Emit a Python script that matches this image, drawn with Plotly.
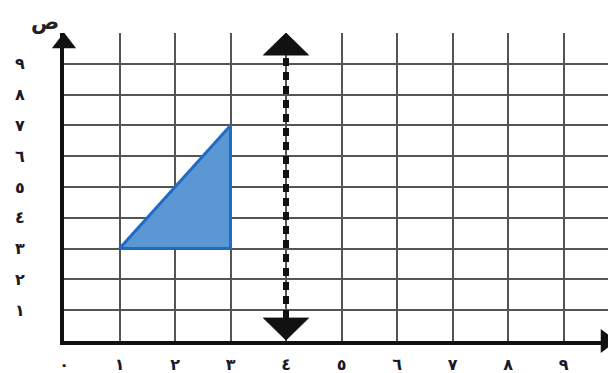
import plotly.graph_objects as go

# figure geometry (page adds an 8px body margin)
W, H = 608, 365
ML, MR, MT, MB = 56, 0, 25, 32

# axes / ticks
x_ticks = list(range(10))
x_labels = ["٠", "١", "٢", "٣", "٤", "٥", "٦", "٧", "٨", "٩"]
y_ticks = list(range(11))
y_labels = ["", "١", "٢", "٣", "٤", "٥", "٦", "٧", "٨", "٩", ""]
x_max = 9.946
y_max = 10
y_title = "ص"

# shape data
tri_x = [1, 3, 3]
tri_y = [3, 3, 7]
mirror_x = 4

# pixels per data unit
sx = (W - ML - MR) / x_max
sy = (H - MT - MB) / y_max


def arrow_head(xt, yt, up, w_px, h_px):
    hw = w_px / 2 / sx
    hh = h_px / sy * (1 if up else -1)
    return [xt - hw, xt, xt + hw, xt - hw], [yt - hh, yt, yt - hh, yt - hh]


fig = go.Figure()

# triangle
fig.add_trace(go.Scatter(
    x=tri_x + tri_x[:1], y=tri_y + tri_y[:1],
    mode="lines", fill="toself",
    fillcolor="#5b97d3",
    line=dict(color="#1f6cc6", width=3),
    hoverinfo="skip",
))

# dashed mirror line with arrows
top_h, bot_h = 22, 22
y_top = y_max
y_bot = 0.03
fig.add_trace(go.Scatter(
    x=[mirror_x, mirror_x],
    y=[y_bot + bot_h / sy, y_top - top_h / sy],
    mode="lines",
    line=dict(color="#111111", width=6, dash="8px,6px"),
    hoverinfo="skip",
))
for yt, up in [(y_top, True), (y_bot, False)]:
    ax, ay = arrow_head(mirror_x, yt, up, 45, 22)
    fig.add_trace(go.Scatter(
        x=ax, y=ay, mode="lines", fill="toself",
        fillcolor="#111111", line=dict(color="#111111", width=1),
        hoverinfo="skip",
    ))

# axis arrow heads
fig.add_trace(go.Scatter(
    x=[0], y=[y_max - 10 / sy], mode="markers", cliponaxis=False,
    marker=dict(symbol="triangle-up", size=21, color="#111111"),
    hoverinfo="skip",
))
fig.add_trace(go.Scatter(
    x=[x_max - 10 / sx], y=[0], mode="markers", cliponaxis=False,
    marker=dict(symbol="triangle-right", size=21, color="#111111"),
    hoverinfo="skip",
))

fig.add_annotation(
    xref="paper", yref="paper", x=-0.035, y=1.036,
    xanchor="center", yanchor="middle", borderpad=0,
    text=y_title, showarrow=False,
    font=dict(size=21, color="#222222", family="DejaVu Sans"),
)

fig.update_layout(
    width=W, height=H,
    margin=dict(l=ML, r=MR, t=MT, b=MB),
    paper_bgcolor="white", plot_bgcolor="white",
    showlegend=False,
    font=dict(family="DejaVu Sans", size=16, color="#1a1a2a", weight="bold"),
)
fig.update_xaxes(
    range=[0, x_max], tickvals=x_ticks, ticktext=x_labels,
    showgrid=True, gridcolor="#555555", gridwidth=2,
    zeroline=False, showline=True, linecolor="#111111", linewidth=4,
    ticks="", ticklabelstandoff=6, fixedrange=True, automargin=False,
)
fig.update_yaxes(
    range=[0, y_max], tickvals=y_ticks, ticktext=y_labels,
    showgrid=True, gridcolor="#555555", gridwidth=2,
    zeroline=False, showline=True, linecolor="#111111", linewidth=4,
    ticks="", ticklabelstandoff=32, fixedrange=True, automargin=False,
)

fig.write_html("out.html")
